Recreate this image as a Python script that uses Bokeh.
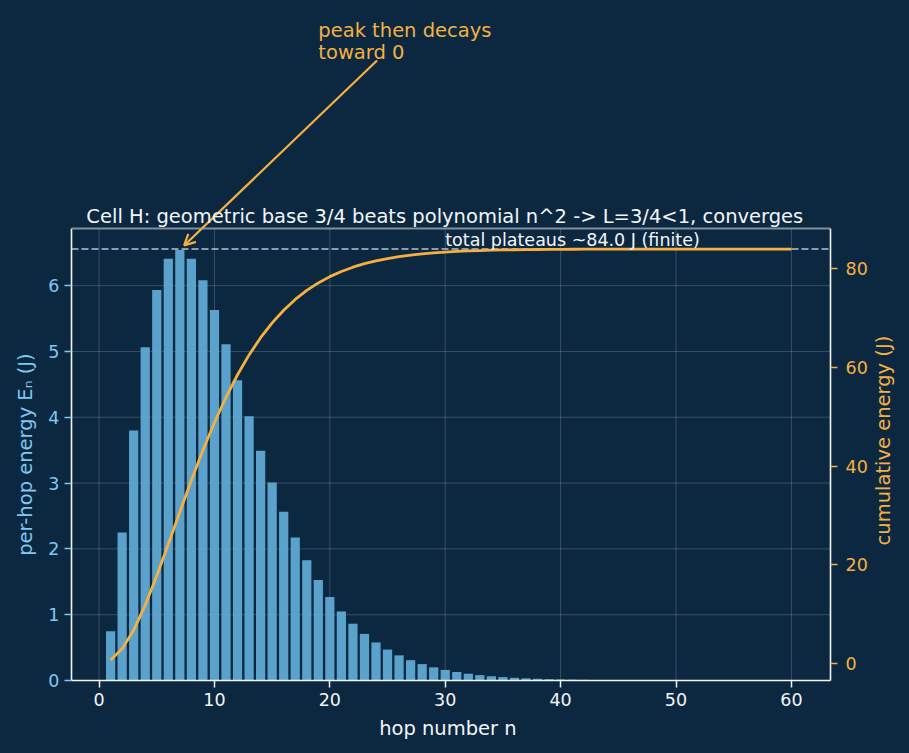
import math

from bokeh.plotting import figure
from bokeh.layouts import column
from bokeh.models import Range1d, LinearAxis, FixedTicker, Label, Arrow, OpenHead
from bokeh.embed import file_html
from bokeh.resources import INLINE

# hop index and energy per hop (J)
hops = list(range(1, 61))
energy = [
    0.750, 2.250, 3.797, 5.063, 5.933, 6.407, 6.541, 6.407, 6.082, 5.631,
    5.111, 4.561, 4.015, 3.492, 3.007, 2.566, 2.172, 1.827, 1.526, 1.268,
    1.049, 0.863, 0.708, 0.578, 0.470, 0.382, 0.309, 0.249, 0.200, 0.161,
    0.129, 0.103, 0.082, 0.065, 0.052, 0.041, 0.033, 0.026, 0.020, 0.016,
    0.013, 0.010, 0.008, 0.006, 0.005, 0.004, 0.003, 0.002, 0.002, 0.001,
    0.001, 0.001, 0.001, 0.001, 0.000, 0.000, 0.000, 0.000, 0.000, 0.000,
]
# running total of the energy (J)
cumulative = [
    0.75, 3.00, 6.80, 11.86, 17.79, 24.20, 30.74, 37.15, 43.23, 48.86,
    53.97, 58.53, 62.55, 66.04, 69.05, 71.61, 73.79, 75.61, 77.14, 78.41,
    79.46, 80.32, 81.03, 81.61, 82.08, 82.46, 82.77, 83.02, 83.22, 83.38,
    83.51, 83.61, 83.69, 83.76, 83.81, 83.85, 83.88, 83.91, 83.93, 83.95,
    83.96, 83.97, 83.98, 83.98, 83.99, 83.99, 83.99, 83.99, 84.00, 84.00,
    84.00, 84.00, 84.00, 84.00, 84.00, 84.00, 84.00, 84.00, 84.00, 84.00,
]
total_energy = 84.0

x_ticks = [0, 10, 20, 30, 40, 50, 60]
left_ticks = [0, 1, 2, 3, 4, 5, 6]
right_ticks = [0, 20, 40, 60, 80]

# axes box in data units
X0, X1 = -2.39, 63.39
E_TOP = 6.868
C_BOT, C_TOP = -3.41, 88.16

# page geometry: the plot frames fill the page, the axes box sits inside
W, H_HEAD, H_MAIN = 909, 228, 525
B_LEFT, B_RIGHT, B_BOTTOM = 71, 79, 73
BOX_H = H_MAIN - B_BOTTOM
HEAD_TOP = 10.333                          # energy units at the top edge of the page
PX = (X1 - X0) / (W - B_LEFT - B_RIGHT)    # x units per pixel
EPX = E_TOP / BOX_H                        # energy units per pixel
CPX = (C_TOP - C_BOT) / BOX_H              # cumulative units per pixel
XL, XR = X0 - B_LEFT * PX, X1 + B_RIGHT * PX
E_LOW = -B_BOTTOM * EPX
C_LOW = C_BOT - B_BOTTOM * CPX

BG = "#0c2841"
BAR = "#5fa9d4"
ORANGE = "#f5b041"
LEFT_C = "#7ec8f2"
WHITE = "#f2f5f8"
GRID = dict(line_color="white", line_alpha=0.18, line_width=1)
FONT = "DejaVu Sans"
BIG = "19.5px"
SMALL = "17.5px"

# callout arrow: tail below the note, head on the tallest bar
arrow_tail = (24.09, 9.42)
arrow_tip = (7.375, 6.61)

# ---------------------------------------------------------------- header strip
head = figure(
    width=W, height=H_HEAD, output_backend="svg", toolbar_location=None, title=None,
    x_range=Range1d(XL, XR), y_range=Range1d(E_TOP, HEAD_TOP),
    x_axis_location=None, y_axis_location=None, min_border=0,
    background_fill_color=BG, border_fill_color=BG,
    styles={"background-color": BG},
)
head.outline_line_color = None
head.grid.visible = False

head.add_layout(Label(x=30.5, y=7.05,
                      text="Cell H: geometric base 3/4 beats polynomial n^2  ->  L=3/4<1, converges",
                      text_color=WHITE, text_font=FONT, text_font_size=BIG,
                      text_baseline="alphabetic", text_align="center"))
head.add_layout(Label(x=19.0, y=9.87, text="peak then decays", text_color=ORANGE,
                      text_font=FONT, text_font_size=BIG, text_baseline="alphabetic"))
head.add_layout(Label(x=19.0, y=9.55, text="toward 0", text_color=ORANGE,
                      text_font=FONT, text_font_size=BIG, text_baseline="alphabetic"))
# upper part of the callout arrow (clipped at the box edge)
head.segment(x0=[arrow_tail[0]], y0=[arrow_tail[1]], x1=[arrow_tip[0]], y1=[arrow_tip[1]],
             line_color=ORANGE, line_width=2.2)
# upper half of the box's top edge
head.segment(x0=[X0], y0=[E_TOP], x1=[X1], y1=[E_TOP], line_color=WHITE, line_width=1.6)

# ---------------------------------------------------------------- main axes
main = figure(
    width=W, height=H_MAIN, output_backend="svg", toolbar_location=None, title=None,
    x_range=Range1d(XL, XR), y_range=Range1d(E_LOW, E_TOP), min_border=0,
    background_fill_color=BG, border_fill_color=BG,
    styles={"background-color": BG},
)
main.extra_y_ranges = {"cum": Range1d(C_LOW, C_TOP)}
main.outline_line_color = None
main.xgrid.visible = False
main.ygrid.visible = False

# grid lines inside the box
main.segment(x0=x_ticks, y0=[0] * len(x_ticks), x1=x_ticks, y1=[E_TOP] * len(x_ticks), **GRID)
main.segment(x0=[X0] * len(left_ticks), y0=left_ticks, x1=[X1] * len(left_ticks),
             y1=left_ticks, **GRID)


def style_axis(ax, color):
    ax.axis_line_color = WHITE
    ax.axis_line_width = 1.6
    ax.major_tick_line_color = color
    ax.major_tick_line_width = 1.5
    ax.major_tick_out = 7
    ax.major_tick_in = 0
    ax.minor_tick_line_color = None
    ax.major_label_text_color = color
    ax.major_label_text_font = FONT
    ax.major_label_text_font_size = SMALL


# axes pinned to the edges of the box
xa = main.xaxis[0]
xa.ticker = FixedTicker(ticks=x_ticks)
xa.fixed_location = 0
xa.bounds = (X0, X1)
style_axis(xa, WHITE)
xa.major_label_standoff = 5

ya = main.yaxis[0]
ya.ticker = FixedTicker(ticks=left_ticks)
ya.fixed_location = X0
ya.bounds = (0, E_TOP)
style_axis(ya, LEFT_C)
ya.major_label_standoff = 5

ra = LinearAxis(y_range_name="cum", ticker=FixedTicker(ticks=right_ticks),
                fixed_location=X1, bounds=(C_BOT, C_TOP))
style_axis(ra, ORANGE)
ra.major_label_standoff = 8
main.add_layout(ra, "right")

# axis titles
main.add_layout(Label(x=30.5, y=-48 * EPX, text="hop number  n",
                      text_color=WHITE, text_font=FONT, text_font_size=BIG,
                      text_align="center", text_baseline="alphabetic"))
main.add_layout(Label(x=X0 - 46.5 * PX, y=229 * EPX, text="per-hop energy  E\u2099 (J)",
                      angle=math.pi / 2, text_color=LEFT_C, text_font=FONT,
                      text_font_size=BIG, text_align="center", text_baseline="middle"))
main.add_layout(Label(x=X1 + 52.5 * PX, y=45.2, y_range_name="cum",
                      text="cumulative energy (J)", angle=math.pi / 2,
                      text_color=ORANGE, text_font=FONT, text_font_size=BIG,
                      text_align="center", text_baseline="middle"))

# lower half of the box's top edge
main.segment(x0=[X0], y0=[E_TOP], x1=[X1], y1=[E_TOP], line_color=WHITE, line_width=1.6)

# per-hop bars
main.vbar(x=hops, top=energy, bottom=0, width=0.8, fill_color=BAR, fill_alpha=0.95,
          line_color=None)

# plateau reference line
main.segment(x0=[X0], y0=[total_energy], x1=[X1], y1=[total_energy], y_range_name="cum",
             line_color="#c9d4e0", line_width=1.5, line_dash="7 3", line_alpha=0.9)

# cumulative curve
main.line(x=hops, y=cumulative, y_range_name="cum", line_color=ORANGE, line_width=2.8)

main.add_layout(Label(x=30, y=total_energy + 1.8, y_range_name="cum",
                      text="total plateaus ~%.1f J (finite)" % total_energy,
                      text_color=WHITE, text_font=FONT, text_font_size=SMALL,
                      text_baseline="alphabetic", text_align="left"))

# lower part of the callout arrow with its head
main.add_layout(Arrow(x_start=arrow_tail[0], y_start=arrow_tail[1],
                      x_end=arrow_tip[0], y_end=arrow_tip[1],
                      line_color=ORANGE, line_width=2.2,
                      end=OpenHead(size=11, line_color=ORANGE, line_width=2.2)))

p = column(head, main, spacing=0, styles={"background-color": BG})

open("out.html", "w").write(file_html(p, INLINE))
